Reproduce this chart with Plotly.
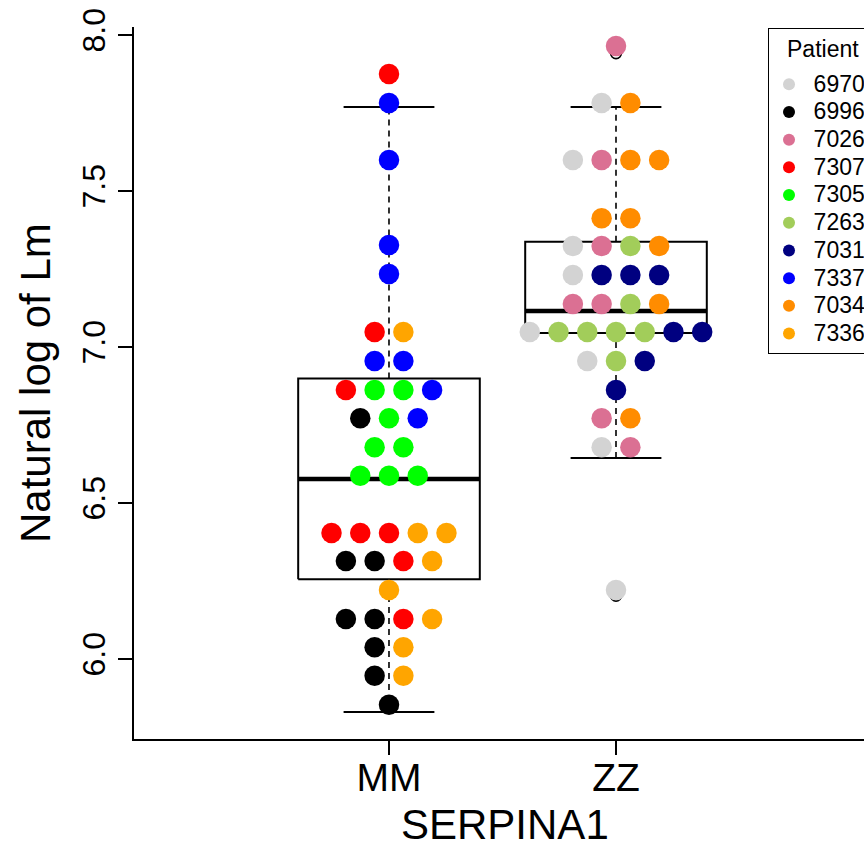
import plotly.graph_objects as go

# ---------------- data ----------------
groups = ["MM", "ZZ"]
group_pos = [0, 1]

patients = ["6970", "6996", "7026", "7307", "7305", "7263", "7031", "7337", "7034", "7336"]
patient_colors = ["#D3D3D3", "#000000", "#DB7093", "#FF0000", "#00FF00",
                  "#A2CD5A", "#000080", "#0000FF", "#FF8C00", "#FFA500"]

# MM points (listed row by row, left to right within each row)
mm_patient = ["7307",
              "7337", "7337", "7337", "7337",
              "7307", "7336",
              "7337", "7337",
              "7307", "7305", "7305", "7337",
              "6996", "7305", "7337",
              "7305", "7305",
              "7305", "7305", "7305",
              "7307", "7307", "7307", "7336", "7336",
              "6996", "6996", "7307", "7336",
              "7336",
              "6996", "6996", "7307", "7336",
              "6996", "7336",
              "6996", "7336",
              "6996"]
mm_value = [7.875,
            7.782, 7.599, 7.327, 7.234,
            7.048, 7.048,
            6.955, 6.955,
            6.862, 6.862, 6.862, 6.862,
            6.772, 6.772, 6.772,
            6.679, 6.679,
            6.587, 6.587, 6.587,
            6.404, 6.404, 6.404, 6.404, 6.404,
            6.314, 6.314, 6.314, 6.314,
            6.221,
            6.128, 6.128, 6.128, 6.128,
            6.038, 6.038,
            5.946, 5.946,
            5.853]

# ZZ points
zz_patient = ["7026",
              "6970", "7034",
              "6970", "7026", "7034", "7034",
              "7034", "7034",
              "6970", "7026", "7263", "7034",
              "6970", "7031", "7031", "7031",
              "7026", "7026", "7263", "7034",
              "6970", "7263", "7263", "7263", "7263", "7031", "7031",
              "6970", "7263", "7031",
              "7031",
              "7026", "7034",
              "6970", "7026",
              "6970"]
zz_value = [7.965,
            7.782, 7.782,
            7.599, 7.599, 7.599, 7.599,
            7.413, 7.413,
            7.324, 7.324, 7.324, 7.324,
            7.231, 7.231, 7.231, 7.231,
            7.138, 7.138, 7.138, 7.138,
            7.048, 7.048, 7.048, 7.048, 7.048, 7.048, 7.048,
            6.955, 6.955, 6.955,
            6.862,
            6.772, 6.772,
            6.679, 6.679,
            6.221]

# boxplot statistics per group
box_low = [5.830, 6.644]
box_q1 = [6.256, 7.045]
box_median = [6.577, 7.115]
box_q3 = [6.899, 7.337]
box_high = [7.769, 7.769]
outlier_group = [0, 1, 1]
outlier_value = [7.870, 7.942, 6.203]

legend_title = "Patient"

# ---------------- layout constants ----------------
BOX_HALF = 0.40
CAP_HALF = 0.20
SWARM_STEP = 0.1266
FONT = "Liberation Sans"
LEGEND_TEXT_PX = 23

fig = go.Figure()

# boxplots
for gi, gpos in enumerate(group_pos):
    l, r = gpos - BOX_HALF, gpos + BOX_HALF
    line_kw = dict(color="black", width=2)
    fig.add_trace(go.Scatter(x=[l, r, r, l, l],
                             y=[box_q1[gi], box_q1[gi], box_q3[gi], box_q3[gi], box_q1[gi]],
                             mode="lines", line=line_kw, showlegend=False, hoverinfo="skip"))
    fig.add_trace(go.Scatter(x=[l, r], y=[box_median[gi]] * 2, mode="lines",
                             line=dict(color="black", width=4.5), showlegend=False, hoverinfo="skip"))
    for a, b in [(box_q3[gi], box_high[gi]), (box_low[gi], box_q1[gi])]:
        fig.add_trace(go.Scatter(x=[gpos, gpos], y=[a, b], mode="lines",
                                 line=dict(color="black", width=1.6, dash="6px,5px"),
                                 showlegend=False, hoverinfo="skip"))
    for v in [box_high[gi], box_low[gi]]:
        fig.add_trace(go.Scatter(x=[gpos - CAP_HALF, gpos + CAP_HALF], y=[v, v], mode="lines",
                                 line=line_kw, showlegend=False, hoverinfo="skip"))

# outliers (open circles)
fig.add_trace(go.Scatter(x=[group_pos[g] for g in outlier_group], y=outlier_value, mode="markers",
                         marker=dict(symbol="circle-open", size=11, color="black", line=dict(width=1.6)),
                         showlegend=False, hoverinfo="skip"))


# swarm positions: points with equal value share a row, centred on the group
def swarm(values, center):
    xs = []
    rows = {}
    for v in values:
        rows[v] = rows.get(v, 0) + 1
    seen = {}
    for v in values:
        n = rows[v]
        i = seen.get(v, 0)
        seen[v] = i + 1
        xs.append(center + (i - (n - 1) / 2) * SWARM_STEP)
    return xs


mm_x = swarm(mm_value, group_pos[0])
zz_x = swarm(zz_value, group_pos[1])

all_x = mm_x + zz_x
all_y = mm_value + zz_value
all_p = mm_patient + zz_patient

for p, c in zip(patients, patient_colors):
    xs = [x for x, pp in zip(all_x, all_p) if pp == p]
    ys = [y for y, pp in zip(all_y, all_p) if pp == p]
    fig.add_trace(go.Scatter(x=xs, y=ys, mode="markers",
                             name=f"<span style='font-size:{LEGEND_TEXT_PX}px'>\u2009{p}</span>",
                             marker=dict(color=c, size=20.5, line=dict(width=0))))

fig.update_layout(
    width=864, height=847,
    margin=dict(l=134, r=0, t=27, b=108, autoexpand=False),
    paper_bgcolor="white", plot_bgcolor="white",
    font=dict(family=FONT, color="black"),
    showlegend=True,
    legend=dict(x=0.8685, y=0.9986, xanchor="left", yanchor="top",
                bordercolor="black", borderwidth=1, bgcolor="rgba(0,0,0,0)",
                font=dict(size=19, family=FONT),
                # blank title only reserves the room above the entries
                title=dict(text="<span style='font-size:1px'>&nbsp;</span>",
                           font=dict(size=28, family=FONT)),
                itemsizing="constant", tracegroupgap=0),
    xaxis=dict(range=[-1.1233, 2.0925], tickvals=group_pos, ticktext=groups,
               showgrid=False, zeroline=False, showline=True, linecolor="black", linewidth=1.6,
               ticks="outside", ticklen=14, tickwidth=1.6, tickcolor="black",
               ticklabelstandoff=-11,
               tickfont=dict(size=39, family=FONT)),
    yaxis=dict(range=[5.7436, 8.0256], tickvals=[6.0, 6.5, 7.0, 7.5, 8.0],
               ticktext=["6.0", "6.5", "7.0", "7.5", "8.0"],
               showgrid=False, zeroline=False, showline=True, linecolor="black", linewidth=1.6,
               ticks="outside", ticklen=14, tickwidth=1.6, tickcolor="black",
               tickangle=-90, tickfont=dict(size=32, family=FONT)),
    annotations=[
        dict(text="Natural log of Lm", xref="paper", yref="paper", x=-0.1356, y=0.5,
             xanchor="center", yanchor="middle", textangle=-90, showarrow=False,
             font=dict(size=42, family=FONT)),
        dict(text="SERPINA1", xref="paper", yref="paper", x=0.508, y=-0.1194,
             xanchor="center", yanchor="middle", showarrow=False,
             font=dict(size=42, family=FONT)),
        dict(text=legend_title, xref="paper", yref="paper", x=0.8918, y=0.9691,
             xanchor="left", yanchor="middle", showarrow=False,
             font=dict(size=LEGEND_TEXT_PX, family=FONT)),
    ],
)

fig.write_html("out.html")
